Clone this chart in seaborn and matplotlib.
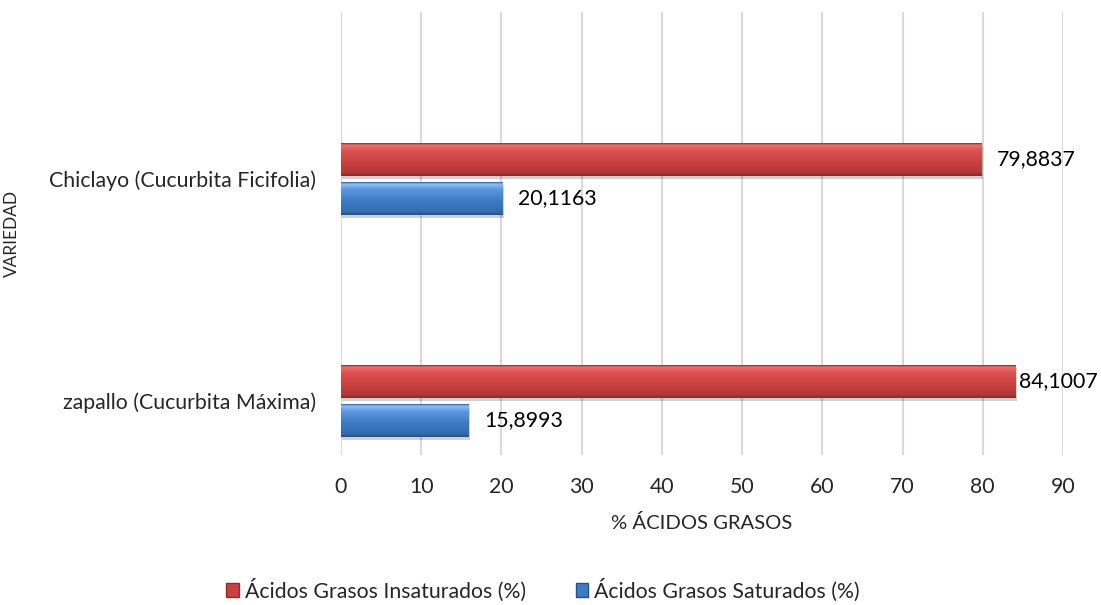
import numpy as np
import pandas as pd
import matplotlib
matplotlib.use("Agg")
import matplotlib.pyplot as plt
from matplotlib.colors import LinearSegmentedColormap
from matplotlib.patches import Patch, Rectangle
import seaborn as sns

# Fatty-acid composition of pumpkin seed oil by variety
variedades = ["Chiclayo (Cucurbita Ficifolia)", "zapallo (Cucurbita Máxima)"]
insaturados = [79.8837, 84.1007]
saturados = [20.1163, 15.8993]
serie_ins = "Ácidos Grasos Insaturados (%)"
serie_sat = "Ácidos Grasos Saturados (%)"
x_ticks = [0, 10, 20, 30, 40, 50, 60, 70, 80, 90]

df = pd.DataFrame({
    "variedad": variedades * 2,
    "valor": insaturados + saturados,
    "serie": [serie_ins] * len(variedades) + [serie_sat] * len(variedades),
})

sns.set_theme(style="white")
plt.rcParams["font.family"] = ["Lato", "DejaVu Sans"]
FS = 15.3

red = "#C8423E"
blue = "#3F7CC6"
# vertical shading ramps (top -> bottom) for the bevelled bar look
ramps = {
    red: ["#8E2B28", "#EF7170", "#DC5250", "#CC4341", "#B23836", "#8A2725"],
    blue: ["#2F5F9C", "#8FC2F4", "#5A98DE", "#3F7CC6", "#336BAE", "#264F85"],
}

fig = plt.figure(figsize=(11.01, 6.05), dpi=100)
ax = fig.add_axes([341 / 1101, 1 - 455 / 605, (1063 - 341) / 1101, (455 - 12) / 605])

sns.barplot(data=df, y="variedad", x="valor", hue="serie", orient="h",
            palette=[red, blue], width=0.351, gap=0.154, ax=ax,
            legend=False, saturation=1)

ax.set_xlim(0, 90)
ax.set_ylim(1.243, -0.752)
ax.set_xticks(x_ticks)
ax.set_xticklabels([str(t) for t in x_ticks], fontsize=FS)
ax.tick_params(axis="y", labelsize=FS, pad=18, length=0)
ax.tick_params(axis="x", pad=16, length=0)
ax.grid(axis="x", color="#D9D9D9", linewidth=1.5)
ax.set_axisbelow(True)
for s in ax.spines.values():
    s.set_visible(False)
ax.set_xlabel("% ÁCIDOS GRASOS", fontsize=14.6)
ax.set_ylabel("VARIEDAD", fontsize=12.4)
ax.xaxis.label.set_va("center")
ax.xaxis.set_label_coords(0.5, (455 - 523) / 443)
ax.yaxis.label.set_va("center")
ax.yaxis.set_label_coords((12 - 341) / 722, 0.5)

# bevel shading and soft shadow on each bar
bars = [p for p in ax.patches if isinstance(p, Rectangle) and p.get_width() > 0]
for p in bars:
    fc = matplotlib.colors.to_hex(p.get_facecolor())
    key = red if abs(int(fc[1:3], 16) - int(red[1:3], 16)) < 30 else blue
    x0, y0 = p.get_x(), p.get_y()
    w, h = p.get_width(), p.get_height()
    shadow = Rectangle((x0 + 0.15, y0 + 0.012), w, h, facecolor="#000000",
                       alpha=0.18, edgecolor="none", zorder=p.get_zorder() - 0.1)
    ax.add_patch(shadow)
    cmap = LinearSegmentedColormap.from_list(
        "bev", list(zip([0, 0.06, 0.22, 0.55, 0.9, 1.0], ramps[key])))
    grad = np.linspace(0, 1, 200).reshape(-1, 1)
    im = ax.imshow(grad, cmap=cmap, aspect="auto", interpolation="bilinear",
                   extent=(x0, x0 + w, y0 + h, y0), zorder=p.get_zorder() + 0.1)
    im.set_clip_path(p)
    p.set_edgecolor("none")

ax.set_xlim(0, 90)
ax.set_ylim(1.243, -0.752)

# value labels beside each bar, kept inside the chart area
for p in bars:
    v = p.get_width()
    xt = min(v + 1.9, 84.5)
    ax.text(xt, p.get_y() + p.get_height() / 2, f"{v:.4f}".replace(".", ","),
            va="center", ha="left", fontsize=FS, color="black", zorder=5)

handles = [Patch(facecolor=red, edgecolor="#8E2B28", label=serie_ins),
           Patch(facecolor=blue, edgecolor="#264F85", label=serie_sat)]
fig.legend(handles=handles, loc="center", bbox_to_anchor=(543 / 1101, 1 - 590 / 605),
           ncol=2, frameon=False, fontsize=FS, handlelength=0.6, handleheight=0.6,
           handletextpad=0.28, columnspacing=2.35)

fig.savefig("out.png", dpi=100)
